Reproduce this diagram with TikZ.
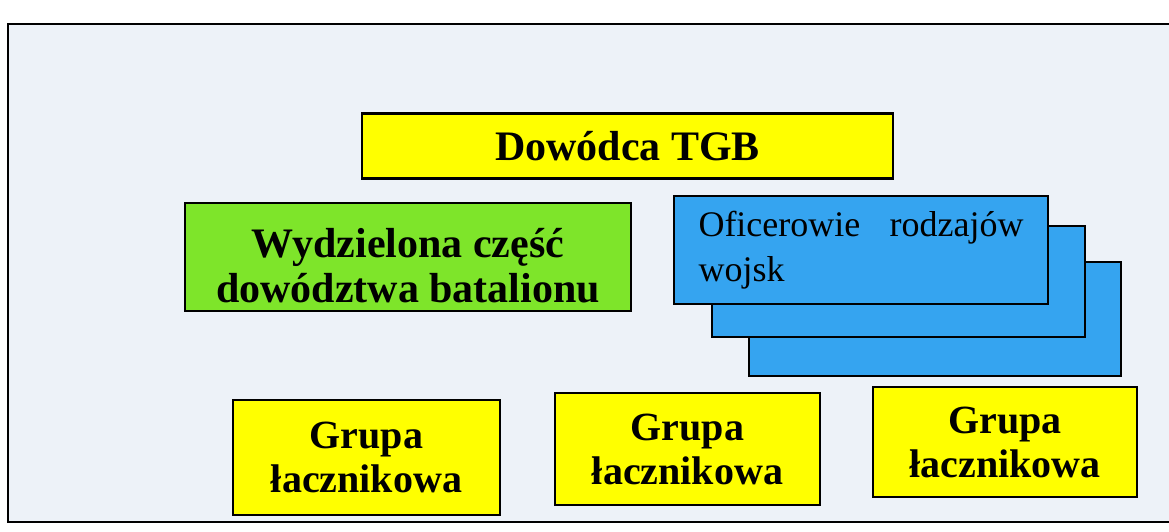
\documentclass[tikz,border=0pt]{standalone}
\usepackage{fontspec}
\setmainfont{Liberation Serif}
\usetikzlibrary{positioning}
\definecolor{paper}{HTML}{EDF2F8}
\definecolor{tgbyellow}{HTML}{FFFF00}
\definecolor{tgbgreen}{HTML}{7EE52A}
\definecolor{tgbblue}{HTML}{35A4F0}

\begin{document}
\begin{tikzpicture}[x=1pt,y=-1pt,
    box/.style={draw,line width=2.2pt,inner sep=0pt,align=center},
    boss/.style={box,fill=tgbyellow,font=\bfseries\fontsize{42}{45}\selectfont},
    staff/.style={box,fill=tgbgreen,font=\bfseries\fontsize{42}{45}\selectfont},
    officer/.style={box,fill=tgbblue,font=\fontsize{36}{45}\selectfont},
    liaison/.style={box,fill=tgbyellow,font=\bfseries\fontsize{40}{44}\selectfont}]
    \useasboundingbox (0,0) rectangle (1169,532);
    \clip (0,0) rectangle (1169,532);
    \fill[white] (0,0) rectangle (1169,532);
    \draw[line width=2.6pt,fill=paper] (8,24) rectangle (1185,522);
    % top
    \node[boss]  (dow)  [minimum width=531pt,minimum height=65pt]  at (627.5,146) {Dowódca TGB};
    \node[staff] (wyd)  [minimum width=446pt,minimum height=108pt] at (408,257)
        {\rule{0pt}{47pt}Wydzielona część\\dowództwa batalionu};
    % stack of officers, back to front
    \node[officer] (of3) [minimum width=372pt,minimum height=114pt] at (935,319)   {};
    \node[officer] (of2) [minimum width=373pt,minimum height=111pt] at (898.5,281.5) {};
    \node[officer] (of1) [minimum width=374pt,minimum height=108pt,text width=325pt,align=left]
        at (861,250) {Oficerowie\hfill rodzajów\\wojsk};
    % liaison groups
    \node[liaison] (gr1) [minimum width=267pt,minimum height=115pt] at (366.5,457.5) {Grupa\\łacznikowa};
    \node[liaison] (gr2) [minimum width=265pt,minimum height=112pt] at (687.5,449)   {Grupa\\łacznikowa};
    \node[liaison] (gr3) [minimum width=264pt,minimum height=110pt] at (1005,442)    {Grupa\\łacznikowa};
\end{tikzpicture}
\end{document}
